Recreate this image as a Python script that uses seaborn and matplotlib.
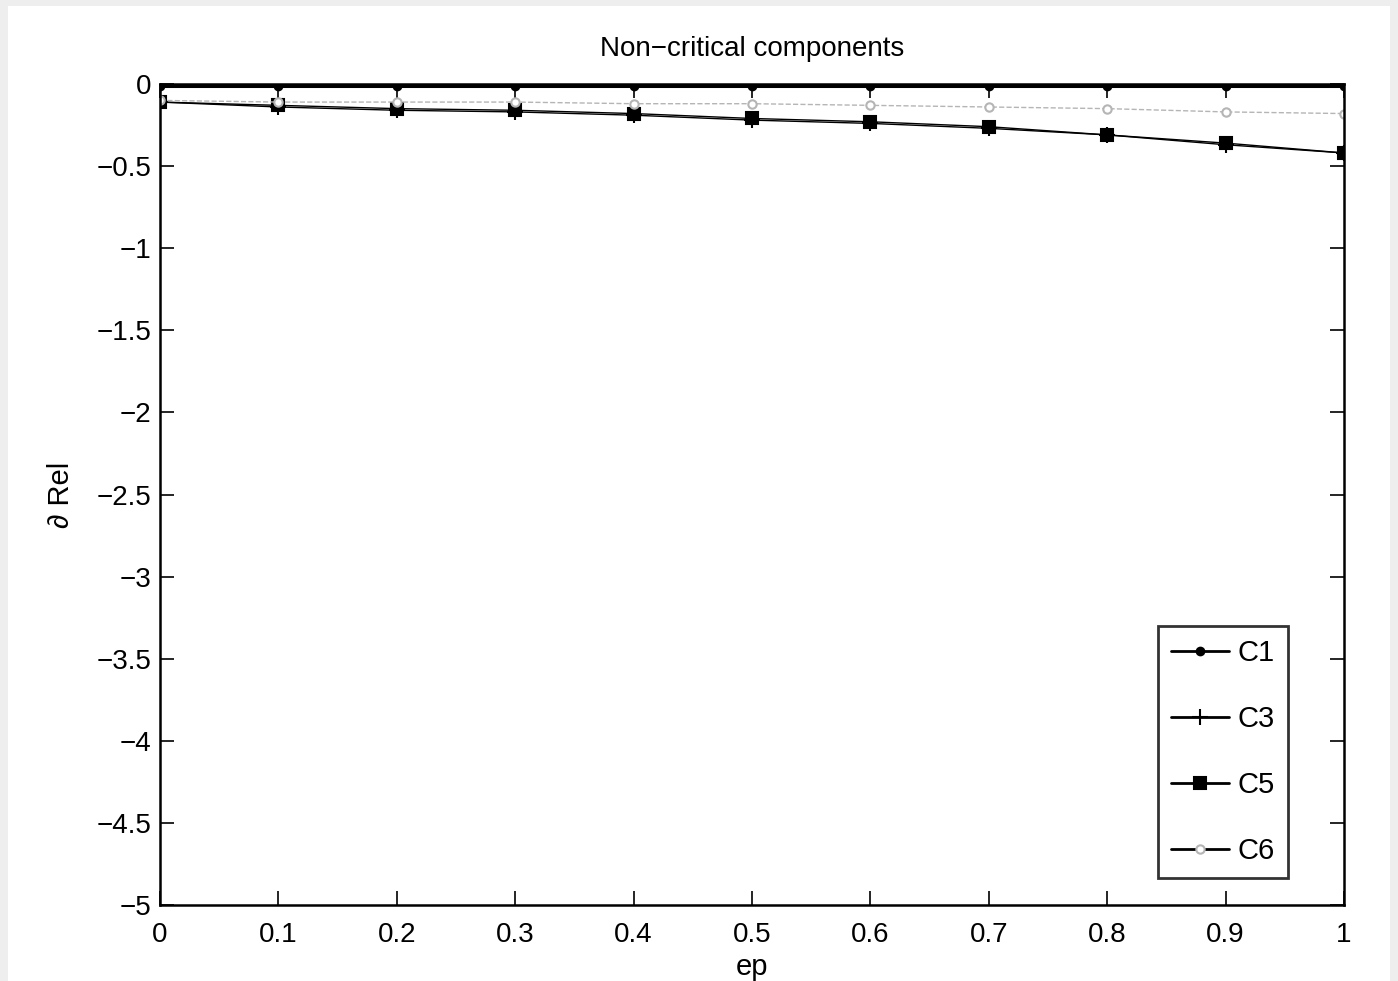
import numpy as np
import pandas as pd
import matplotlib
matplotlib.use("Agg")
import matplotlib.pyplot as plt
import seaborn as sns
from matplotlib.patches import Rectangle

ep = [0.0, 0.1, 0.2, 0.3, 0.4, 0.5, 0.6, 0.7, 0.8, 0.9, 1.0]
c1 = [-0.01, -0.01, -0.01, -0.01, -0.01, -0.01, -0.01, -0.01, -0.01, -0.01, -0.01]
c3 = [-0.11, -0.14, -0.16, -0.17, -0.19, -0.22, -0.24, -0.27, -0.31, -0.37, -0.42]
c5 = [-0.11, -0.13, -0.15, -0.16, -0.18, -0.21, -0.23, -0.26, -0.31, -0.36, -0.42]
c6 = [-0.10, -0.11, -0.11, -0.11, -0.12, -0.12, -0.13, -0.14, -0.15, -0.17, -0.18]
names = ["C1", "C3", "C5", "C6"]
xticks = [0, 0.1, 0.2, 0.3, 0.4, 0.5, 0.6, 0.7, 0.8, 0.9, 1]
xticklabels = ["0", "0.1", "0.2", "0.3", "0.4", "0.5", "0.6", "0.7", "0.8", "0.9", "1"]
yticks = [0, -0.5, -1, -1.5, -2, -2.5, -3, -3.5, -4, -4.5, -5]
yticklabels = ["0", "\u22120.5", "\u22121", "\u22121.5", "\u22122", "\u22122.5", "\u22123", "\u22123.5", "\u22124", "\u22124.5", "\u22125"]

sns.set_theme(style="ticks")
plt.rcParams['font.family'] = ['Liberation Sans', 'DejaVu Sans']
plt.rcParams['text.color'] = 'black'
plt.rcParams['axes.labelcolor'] = 'black'

fig = plt.figure(figsize=(13.98, 9.81), dpi=100)
fig.patch.set_facecolor('#eeeeee')
fig.patches.append(Rectangle((8/1398, 0), (1390-8)/1398, 1 - 6/981,
                             transform=fig.transFigure, facecolor='white',
                             edgecolor='none', zorder=-10))
ax = fig.add_axes([160/1398, 1 - 905/981, (1344-160)/1398, (905-84)/981])

styles = [
    dict(data=c1, marker='.', color='black', lw=2.2, ms=11, mfc='black', ls='-'),
    dict(data=c3, marker='+', color='black', lw=1.0, ms=12, mfc='black', ls='-'),
    dict(data=c5, marker='s', color='black', lw=1.0, ms=9, mfc='black', ls='-'),
    dict(data=c6, marker='o', color='#b5b5b5', lw=1.0, ms=6, mfc='white', ls='--'),
]
for name, st in zip(names, styles):
    sns.lineplot(x=ep, y=st['data'], ax=ax, label=name, color=st['color'],
                 marker=st['marker'], markersize=st['ms'], linewidth=st['lw'],
                 linestyle=st['ls'], markerfacecolor=st['mfc'],
                 markeredgecolor=st['color'], markeredgewidth=1.5)

ax.set_xlim(0, 1)
ax.set_ylim(-5, 0)
ax.set_xticks(xticks)
ax.set_xticklabels(xticklabels)
ax.set_yticks(yticks)
ax.set_yticklabels(yticklabels)
ax.tick_params(direction='in', length=10, width=1.2, labelsize=20, top=True, right=True,
               colors='black', pad=6)
ax.tick_params(axis='x', pad=12)
for s in ax.spines.values():
    s.set_visible(True)
    s.set_linewidth(1.8)
    s.set_color('black')
ax.set_xlabel('ep', fontsize=21, labelpad=4)
ax.set_ylabel('\u2202 Rel', fontsize=21, labelpad=16)
ax.set_title('Non\u2212critical components', fontsize=20, pad=20, color='black')

leg = ax.legend(loc='lower right', fontsize=21, frameon=True, fancybox=False,
                edgecolor='black', handlelength=2.0, handletextpad=0.3,
                labelspacing=1.3, borderpad=0.45, borderaxespad=0,
                bbox_to_anchor=(0.953, 0.033))
leg.get_frame().set_linewidth(2.0)
for h, st in zip(leg.get_lines(), styles):
    h.set_color('black')
    h.set_linestyle('-')
    h.set_linewidth(2)
leg.get_lines()[3].set_markeredgecolor('#b5b5b5')

fig.savefig('out.png', dpi=100, facecolor=fig.get_facecolor())
